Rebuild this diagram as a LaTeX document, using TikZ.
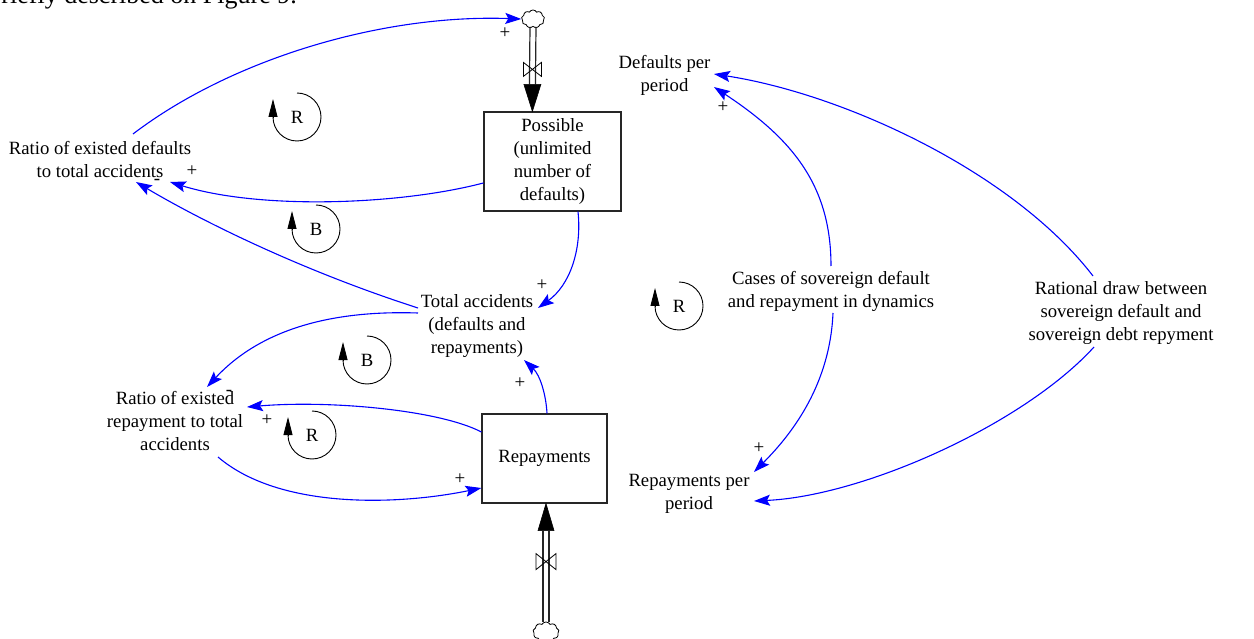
\documentclass[tikz,border=0pt]{standalone}
\usepackage{fontspec}
\setmainfont{Liberation Serif}
\usetikzlibrary{arrows.meta,calc,shapes.symbols}
\begin{document}
\begin{tikzpicture}[x=1pt,y=-1pt,
  lbl/.style={align=center,font=\fontsize{18.7}{23}\selectfont,inner sep=0pt},
  stockbox/.style={draw=black!85,line width=1.2pt,align=center,font=\fontsize{18.7}{23}\selectfont,inner sep=0pt},
  link/.style={draw=blue,line width=1.1pt,-{Stealth[length=16pt,width=11pt,inset=3pt]}},
  pol/.style={font=\fontsize{19}{19}\selectfont,inner sep=0pt},
  looplbl/.style={font=\fontsize{18.7}{23}\selectfont,inner sep=0pt},
  loopline/.style={draw=black,line width=0.9pt},
  looptip/.style={draw=black,line width=0.9pt,-{Triangle[length=18pt,width=9pt]}},
  pipeline/.style={draw=black!85,line width=1.2pt},
  cloudnode/.style={cloud,cloud puffs=9,cloud puff arc=120,aspect=1.3,draw=black,fill=white,line width=0.8pt,inner sep=0pt},
  valve/.style={draw=black,line width=0.8pt},
  flowtip/.style={fill=black,draw=black,line width=0.6pt}
]
\clip (0,0) rectangle (1254,639);
\fill[white] (0,0) rectangle (1254,639);

% cut-off text at the top
\node[anchor=base east,font=\fontsize{26}{30}\selectfont,inner sep=0pt] (toptxt) at (297,4) {briefly described on Figure 9.};

% stocks
\node[stockbox,minimum width=137pt,minimum height=99pt] (pos) at (552.5,161.5) {Possible\\(unlimited\\number of\\defaults)};
\node[stockbox,minimum width=125pt,minimum height=89pt] (rep) at (544.5,458.5) {Repayments};

% variables
\node[lbl] (rdt) at (100,160) {Ratio of existed defaults\\to total accidents};
\node[lbl] (dpp) at (664.5,75) {Defaults per\\period};
\node[lbl] (tot) at (477,326) {Total accidents\\(defaults and\\repayments)};
\node[lbl] (cases) at (831,291) {Cases of sovereign default\\and repayment in dynamics};
\node[lbl] (rat) at (1121,313) {Rational draw between\\sovereign default and\\sovereign debt repyment};
\node[lbl] (rrt) at (175,421) {Ratio of existed\\repayment to total\\accidents};
\node[lbl] (rpp) at (689,494) {Repayments per\\period};

% flows
\coordinate (t1) at ($(pos.north west)+(49,0)$);
\coordinate (b1) at ($(t1)+(0,-27)$);
\coordinate (v1) at ($(t1)+(0,-42)$);
\coordinate (t2) at ($(rep.south)+(1.5,0)$);
\coordinate (b2) at ($(t2)+(0,27)$);
\coordinate (v2) at ($(t2)+(0,58)$);

\node[cloudnode,minimum width=23pt,minimum height=18pt] (c1) at (533,19) {};
\node[cloudnode,minimum width=26pt,minimum height=20pt] (c2) at (546,632) {};

\draw[pipeline] ($(c1.south)+(-3,0)$) -- ($(b1)+(-3,0)$);
\draw[pipeline] ($(c1.south)+(3,0)$) -- ($(b1)+(3,0)$);
\draw[flowtip] ($(b1)+(-8.5,0)$) -- ($(b1)+(8.5,0)$) -- (t1) -- cycle;
\draw[valve] ($(v1)+(-9,-7)$) -- ($(v1)+(9,7)$) -- ($(v1)+(9,-7)$) -- ($(v1)+(-9,7)$) -- cycle;

\draw[pipeline] ($(c2.north)+(-3,0)$) -- ($(b2)+(-3,0)$);
\draw[pipeline] ($(c2.north)+(3,0)$) -- ($(b2)+(3,0)$);
\draw[flowtip] ($(b2)+(-8,0)$) -- ($(b2)+(8,0)$) -- (t2) -- cycle;
\draw[valve] ($(v2)+(-10,-8)$) -- ($(v2)+(10,8)$) -- ($(v2)+(10,-8)$) -- ($(v2)+(-10,8)$) -- cycle;

% links
\draw[link] ($(rdt)+(33,-26)$) .. controls +(97,-74) and +(-141,-5) .. (c1.west);
\draw[link] ($(pos.west)+(0,21.5)$) .. controls +(-84,22) and +(90,28) .. ($(rdt)+(70,22)$);
\draw[link] ($(tot)+(-59,-18)$) .. controls +(-118,-38) and +(64,38) .. ($(rdt)+(36,22)$);
\draw[link] ($(pos.south)+(25.5,0)$) .. controls +(4,38) and +(32,-23) .. ($(tot)+(61,-18)$);
\draw[link] ($(tot)+(-59,-13)$) .. controls +(-88,-3) and +(53,-57) .. ($(rrt)+(32,-34)$);
\draw[link] ($(rep.west)+(0,-26.5)$) .. controls +(-42,-22) and +(83,-7) .. ($(rrt)+(72,-14)$);
\draw[link] ($(rrt)+(43,36)$) .. controls +(62,53) and +(-82,17) .. ($(rep.west)+(0,29.5)$);
\draw[link] ($(rep.north)+(2.5,0)$) .. controls +(-1,-19) and +(16,15) .. ($(tot)+(47,34)$);
\draw[link] ($(cases)+(0,-25)$) .. controls +(0,-80) and +(79,52) .. ($(dpp)+(49.5,12)$);
\draw[link] ($(cases)+(2,22)$) .. controls +(-3,70) and +(40,-40) .. ($(rpp)+(65,-22)$);
\draw[link] ($(rat)+(-28,-37)$) .. controls +(-80,-104) and +(130,20) .. ($(dpp)+(49.5,-1)$);
\draw[link] ($(rat)+(-27,34)$) .. controls +(-70,77) and +(110,-5) .. ($(rpp)+(65,7)$);

% polarities
\node[pol] (p1) at (505,33) {+};
\node[pol] (p2) at (192,171) {+};
\node[pol] (p3) at (542,285) {+};
\node[pol] (p4) at (267,420) {+};
\node[pol] (p5) at (460,479) {+};
\node[pol] (p6) at (520,383) {+};
\node[pol] (p7) at (723,107) {+};
\node[pol] (p8) at (759,448) {+};
\node[pol] (m1) at (157,182) {-};
\node[pol] (m2) at (229,393) {-};

% loops
\foreach \n/\p/\t in {l1/{(297,117)}/R, l2/{(316,229)}/B, l3/{(367,360)}/B, l4/{(312,435)}/R, l5/{(679,306)}/R}{
  \node[looplbl] (\n) at \p {\t};
  \draw[loopline] ($(\n)+(0,-24)$) arc[start angle=90,end angle=-180,radius=24pt];
  \draw[looptip] ($(\n)+(-24,0)$) -- ++(0,-18);
}
\end{tikzpicture}
\end{document}
